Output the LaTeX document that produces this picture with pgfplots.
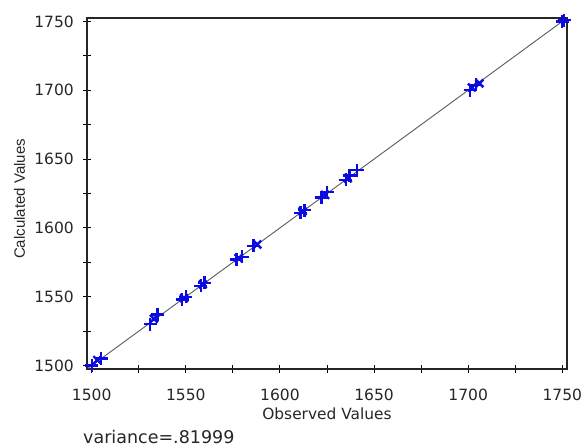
\documentclass[border=0pt]{standalone}
\usepackage{fontspec}
\setmainfont{DejaVu Sans}
\newfontfamily\narrowfont{Liberation Sans}
\usepackage{pgfplots}
\pgfplotsset{compat=1.18}
\definecolor{ptblue}{RGB}{10,10,225}
\definecolor{fitgray}{RGB}{90,90,90}
\begin{document}
\begin{tikzpicture}[x=1bp,y=1bp]
  \path[use as bounding box] (-87bp,-78bp) rectangle (497bp,369bp);
  \begin{axis}[
    scale only axis,
    width=480bp, height=351bp,
    xmin=1497.5, xmax=1752.5,
    ymin=1497.5, ymax=1752.5,
    axis line style={line width=1.1bp, black!85},
    xtick={1500,1550,...,1750},
    ytick={1500,1550,...,1750},
    minor xtick={1525,1575,...,1725},
    minor ytick={1525,1575,...,1725},
    tick align=center,
    xtick pos=bottom, ytick pos=left,
    major tick length=8bp, minor tick length=8bp,
    tick style={line width=1bp, black},
    /pgf/number format/assume math mode=true,
    /pgf/number format/1000 sep={},
    ticklabel style={font=\fontsize{15.5bp}{17bp}\selectfont, text=black!85},
    xticklabel style={anchor=base, yshift=-27bp},
    yticklabel style={anchor=east, inner xsep=0pt, xshift=-9bp},
    xlabel={Observed Values},
    ylabel={Calculated Values},
    xlabel style={font=\fontsize{15.4bp}{17bp}\selectfont, text=black!85, at={(axis description cs:0.5,0)}, anchor=base, yshift=-50bp},
    ylabel style={font=\narrowfont\fontsize{15bp}{16bp}\selectfont, text=black!85, at={(axis description cs:0,0.5)}, anchor=center, yshift=67.5bp, xshift=-5.5bp},
    clip=false,
  ]
    % fitted line
    \addplot[fitgray, line width=0.9bp] coordinates {(1498,1498) (1751,1751)};
    % observed vs calculated, drawn as + marks
    \addplot[only marks, mark=+, ptblue, mark size=6.5bp, line width=2.4bp] coordinates {
      (1500,1500) (1505,1505)
      (1531,1530) (1535,1537)
      (1548,1548) (1550,1550)
      (1558,1558) (1560,1560)
      (1577,1577) (1580,1579)
      (1586,1587)
      (1611,1611) (1613,1613)
      (1622,1622) (1625,1626)
      (1635,1635) (1637,1638) (1641,1642)
      (1701,1700) (1704,1704)
      (1750,1750) (1751,1751)
    };
    % and as x marks
    \addplot[only marks, mark=x, ptblue, mark size=5.5bp, line width=2.4bp] coordinates {
      (1503,1504)
      (1533,1534)
      (1549,1549)
      (1559,1559)
      (1578,1578)
      (1588,1588)
      (1612,1612)
      (1624,1624)
      (1636,1636)
      (1702,1702) (1706,1705)
    };
  \end{axis}
  \node[anchor=base west, inner sep=0pt, font=\fontsize{17.5bp}{19bp}\selectfont, text=black!85] at (-4bp,-74bp) {variance=.81999};
\end{tikzpicture}
\end{document}
